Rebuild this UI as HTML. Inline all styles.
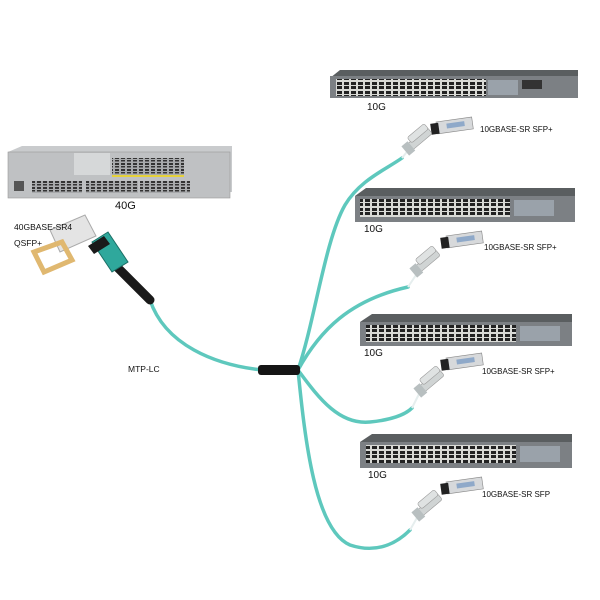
<!DOCTYPE html>
<html><head><style>
html,body{margin:0;padding:0;background:#fff}
svg{display:block}
text{font-family:"Liberation Sans",sans-serif;fill:#111}
</style></head><body>
<svg width="600" height="600" viewBox="0 0 600 600" xmlns="http://www.w3.org/2000/svg">
<defs>
<pattern id="ports" width="7" height="9" patternUnits="userSpaceOnUse">
<rect width="7" height="9" fill="#d9dad6"/><rect x="1" y="1" width="5" height="3" fill="#222"/><rect x="1" y="5" width="5" height="3" fill="#222"/>
</pattern>
<pattern id="sfp" width="6" height="6" patternUnits="userSpaceOnUse">
<rect width="6" height="6" fill="#a8aaac"/><rect x="1" y="1" width="4" height="2" fill="#333"/><rect x="1" y="4" width="4" height="1.5" fill="#333"/>
</pattern>
<g id="lc">
<rect x="-8" y="-4" width="26" height="8" rx="2" fill="#d0d4d4" stroke="#999" stroke-width="0.6"/>
<rect x="-4" y="-9" width="22" height="7" rx="2" fill="#dfe2e2" stroke="#999" stroke-width="0.6"/>
<rect x="-14" y="-6" width="8" height="12" fill="#b8bfc0"/>
</g>
<g id="sfpm">
<rect x="0" y="0" width="36" height="12" fill="#d7d9db" stroke="#888" stroke-width="0.6"/>
<rect x="-6" y="1" width="8" height="11" fill="#222"/>
<rect x="10" y="3" width="18" height="5" fill="#8fa9c9"/>
</g>
</defs>

<!-- cables -->
<g fill="none" stroke="#5ec8bd" stroke-width="3.5" stroke-linecap="round">
<path d="M150 300 C165 345 215 365 262 370"/>
<path d="M298 370 C315 320 325 240 345 205 C360 180 385 170 402 158"/>
<path d="M298 370 C320 330 350 300 408 287"/>
<path d="M298 370 C320 400 340 425 370 422 C390 420 405 415 412 408"/>
<path d="M298 370 C305 440 315 530 350 545 C380 555 400 540 410 530"/>
</g>
<g fill="none" stroke="#e6eeee" stroke-width="2">
<path d="M402 158 L410 148"/><path d="M408 287 L418 272"/><path d="M412 408 L420 392"/><path d="M410 530 L418 516"/>
</g>
<rect x="258" y="365" width="42" height="10" rx="3" fill="#151515"/>

<!-- MTP connector -->
<path d="M118 268 L150 300" stroke="#1a1a1a" stroke-width="9" stroke-linecap="round"/>
<path d="M92 242 L108 232 L128 262 L112 272 Z" fill="#2fa89c" stroke="#1b6f66" stroke-width="1"/>
<path d="M88 246 L104 236 L110 244 L94 254 Z" fill="#1a1a1a"/>

<!-- QSFP -->
<path d="M50 230 L85 215 L96 236 L60 252 Z" fill="#e4e4e4" stroke="#aaa"/>
<path d="M34 252 L62 242 L72 260 L44 272 Z" fill="none" stroke="#e0b870" stroke-width="5"/>

<!-- big switch -->
<path d="M8 152 L22 146 L232 146 L232 192 L8 198 Z" fill="#c9cbcd"/>
<rect x="8" y="152" width="222" height="46" fill="#bfc1c3" stroke="#999" stroke-width="0.6"/>
<rect x="74" y="153" width="36" height="22" fill="#d6d8d9"/>
<rect x="112" y="158" width="72" height="18" fill="url(#sfp)"/>
<rect x="112" y="175" width="72" height="2" fill="#e6d23a"/>
<rect x="32" y="181" width="50" height="12" fill="url(#sfp)"/>
<rect x="86" y="181" width="52" height="12" fill="url(#sfp)"/>
<rect x="140" y="181" width="50" height="12" fill="url(#sfp)"/>
<rect x="14" y="181" width="10" height="10" fill="#555"/>
<text x="115" y="209" font-size="11">40G</text>
<text x="14" y="230" font-size="8.5">40GBASE-SR4</text>
<text x="14" y="246" font-size="8.5">QSFP+</text>
<text x="128" y="372" font-size="8.5">MTP-LC</text>

<!-- switch 1 -->
<path d="M330 78 L340 70 L578 70 L578 92 L330 98 Z" fill="#5a5e60"/>
<rect x="330" y="76" width="248" height="22" fill="#7c8084"/>
<rect x="336" y="79" width="150" height="17" fill="url(#ports)"/>
<rect x="488" y="80" width="30" height="15" fill="#9aa2aa"/>
<rect x="522" y="80" width="20" height="9" fill="#333"/>
<text x="367" y="110" font-size="10">10G</text>
<!-- switch 2 -->
<path d="M355 196 L366 188 L575 188 L575 216 L355 222 Z" fill="#5a5e60"/>
<rect x="355" y="196" width="220" height="26" fill="#7c8084"/>
<rect x="360" y="199" width="150" height="18" fill="url(#ports)"/>
<rect x="514" y="200" width="40" height="16" fill="#9aa2aa"/>
<text x="364" y="232" font-size="10">10G</text>
<!-- switch 3 -->
<path d="M360 322 L372 314 L572 314 L572 340 L360 346 Z" fill="#5a5e60"/>
<rect x="360" y="322" width="212" height="24" fill="#7c8084"/>
<rect x="366" y="325" width="150" height="17" fill="url(#ports)"/>
<rect x="520" y="326" width="40" height="15" fill="#9aa2aa"/>
<text x="364" y="356" font-size="10">10G</text>
<!-- switch 4 -->
<path d="M360 442 L372 434 L572 434 L572 462 L360 468 Z" fill="#5a5e60"/>
<rect x="360" y="442" width="212" height="26" fill="#7c8084"/>
<rect x="366" y="445" width="150" height="18" fill="url(#ports)"/>
<rect x="520" y="446" width="40" height="16" fill="#9aa2aa"/>
<text x="368" y="478" font-size="10">10G</text>

<!-- SFP modules + LC -->
<use href="#sfpm" transform="translate(436 122) rotate(-8)"/>
<use href="#lc" transform="translate(416 142) rotate(-40)"/>
<text x="480" y="132" font-size="8">10GBASE-SR SFP+</text>
<use href="#sfpm" transform="translate(446 236) rotate(-8)"/>
<use href="#lc" transform="translate(424 264) rotate(-40)"/>
<text x="484" y="250" font-size="8">10GBASE-SR SFP+</text>
<use href="#sfpm" transform="translate(446 358) rotate(-8)"/>
<use href="#lc" transform="translate(428 384) rotate(-40)"/>
<text x="482" y="374" font-size="8">10GBASE-SR SFP+</text>
<use href="#sfpm" transform="translate(446 482) rotate(-8)"/>
<use href="#lc" transform="translate(426 508) rotate(-40)"/>
<text x="482" y="497" font-size="8">10GBASE-SR SFP</text>
</svg>
</body></html>
